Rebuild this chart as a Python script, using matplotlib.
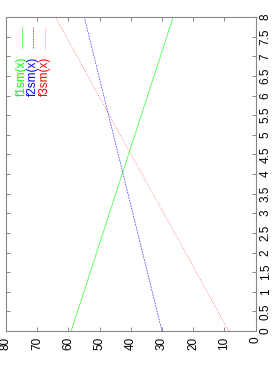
import matplotlib
matplotlib.use("Agg")
import matplotlib.pyplot as plt
import numpy as np

# data: function values at x = 0 and x = 8 (straight lines)
x_pts = [0, 8]
f1sm = [59.1, 26.4]
f2sm = [30.0, 54.9]
f3sm = [8.6, 64.2]
labels = ["f1sm(x)", "f2sm(x)", "f3sm(x)"]
colors = ["#00ff00", "#0000ff", "#ff0000"]
styles = ["-", (0, (2.5, 1.5)), (0, (1, 2))]

x_ticks = np.arange(0, 8.01, 0.5)
x_ticklabels = ["0", "0.5", "1", "1.5", "2", "2.5", "3", "3.5", "4",
                "4.5", "5", "5.5", "6", "6.5", "7", "7.5", "8"]
y_ticks = [0, 10, 20, 30, 40, 50, 60, 70, 80]
y_ticklabels = ["0", "10", "20", "30", "40", "50", "60", "70", "80"]

plt.rcParams['font.family'] = ['Liberation Sans', 'DejaVu Sans']

W, H = 273, 389
fig = plt.figure(figsize=(W / 100, H / 100), dpi=100)
L, R, T, B = 6, 255.5, 17, 331
ax = fig.add_axes([L / W, (H - B) / H, (R - L) / W, (B - T) / H])

for vals, c, ls in zip([f1sm, f2sm, f3sm], colors, styles):
    ax.plot(vals, x_pts, color=c, lw=0.5, linestyle=ls, alpha=0.8)

ax.set_xlim(80, 0)
ax.set_ylim(0, 8)

ax.set_xticks(y_ticks)
ax.set_xticklabels(y_ticklabels, rotation=90, fontsize=8.5)
ax.set_yticks(x_ticks)
ax.set_yticklabels(x_ticklabels, rotation=90, fontsize=8.5, va='center')
ax.yaxis.tick_right()
ax.tick_params(axis='both', direction='in', length=3, width=0.7,
               color='#888888', top=True, bottom=True, left=True, right=True,
               labelleft=False, labelright=True, labeltop=False, labelbottom=True)
ax.tick_params(axis='x', pad=4)
ax.tick_params(axis='y', pad=3)
for s in ax.spines.values():
    s.set_color('#888888')
    s.set_linewidth(0.8)

# legend (rotated)
lx = [0.063, 0.109, 0.156]
for xx, lab, c, ls in zip(lx, labels, colors, styles):
    ax.plot([xx, xx], [0.901, 0.969], transform=ax.transAxes, color=c,
            lw=0.5, linestyle=ls, alpha=0.8, clip_on=False)
    ax.text(xx, 0.874, lab, transform=ax.transAxes, rotation=90,
            ha='center', va='top', color=c, fontsize=8.5)

fig.savefig("out.png", dpi=100)
